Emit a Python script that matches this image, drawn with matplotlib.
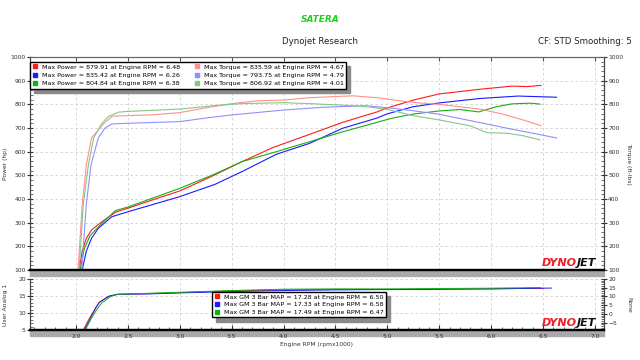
import matplotlib
matplotlib.use('Agg')
import matplotlib.pyplot as plt
from matplotlib.lines import Line2D
from matplotlib.patches import Rectangle
from matplotlib.ticker import MultipleLocator

# --- run data, engine rpm in x1000 ---

# red run
red_pwr_rpm = [2.03, 2.06, 2.10, 2.15, 2.25, 2.38, 2.50, 2.75, 3.00, 3.30, 3.60, 3.90,
               4.25, 4.57, 4.90, 5.00, 5.25, 5.50, 5.90, 6.20, 6.35, 6.48]
red_pwr = [100, 180, 234, 269, 304, 344, 361, 398, 434, 494, 558, 618,
           673, 724, 768, 785, 818, 844, 864, 877, 875, 880]
red_tq_rpm = [2.02, 2.06, 2.10, 2.15, 2.27, 2.35, 2.50, 2.75, 3.00, 3.25, 3.50, 3.75, 4.00,
              4.25, 4.50, 4.67, 4.90, 5.10, 5.30, 5.50, 5.70, 5.90, 6.10, 6.30, 6.48]
red_tq = [100, 375, 545, 658, 720, 750, 752, 756, 765, 785, 803, 815, 818,
          828, 833, 836, 828, 816, 806, 800, 790, 779, 760, 735, 710]

# blue run
blue_pwr_rpm = [2.06, 2.10, 2.15, 2.215, 2.345, 2.50, 3.00, 3.34, 3.61, 3.93, 4.25, 4.57,
                4.90, 5.00, 5.25, 5.50, 5.90, 6.26, 6.63]
blue_pwr = [100, 180, 234, 276, 325, 346, 410, 462, 518, 589, 635, 699,
            742, 760, 790, 806, 825, 835, 830]
blue_tq_rpm = [2.055, 2.10, 2.145, 2.215, 2.28, 2.345, 2.50, 3.00, 3.30, 3.50, 4.00, 4.40,
               4.79, 5.00, 5.25, 5.50, 5.90, 6.20, 6.40, 6.63]
blue_tq = [100, 380, 545, 658, 700, 717, 720, 727, 745, 755, 776, 788,
           794, 786, 773, 758, 722, 695, 678, 658]

# green run
green_pwr_rpm = [2.04, 2.08, 2.135, 2.25, 2.38, 2.50, 3.00, 3.34, 3.60, 3.93, 4.25, 4.57,
                 4.90, 5.05, 5.25, 5.50, 5.70, 5.88, 6.05, 6.20, 6.38, 6.47]
green_pwr = [100, 190, 245, 297, 351, 366, 445, 506, 558, 600, 642, 684,
             724, 742, 759, 772, 778, 768, 790, 802, 805, 801]
green_tq_rpm = [2.03, 2.07, 2.12, 2.17, 2.25, 2.31, 2.41, 2.50, 3.00, 3.34, 3.60, 4.01,
                4.30, 4.60, 4.80, 5.00, 5.25, 5.50, 5.80, 5.96, 6.15, 6.30, 6.47]
green_tq = [100, 375, 545, 658, 720, 748, 767, 770, 780, 795, 803, 807,
            802, 796, 790, 779, 752, 734, 709, 680, 678, 668, 650]

# GM 3 bar MAP (user analog 1)
map_rpm = [2.07, 2.13, 2.18, 2.22, 2.31, 2.40, 2.70, 3.00, 3.50, 4.00, 4.50, 5.00, 5.50, 6.00, 6.50]
red_map = [5, 8.5, 11.0, 13.0, 14.8, 15.5, 15.7, 16.0, 16.5, 16.8, 16.9, 16.9, 17.0, 17.1, 17.28]
blue_map_rpm = [2.08, 2.14, 2.19, 2.23, 2.32, 2.40, 2.70, 3.00, 3.50, 4.00, 4.50, 5.00, 5.50, 6.00, 6.58]
blue_map = [5, 8.5, 11.5, 13.3, 15.0, 15.5, 15.6, 15.9, 16.3, 16.6, 16.8, 16.9, 17.0, 17.1, 17.33]
green_map_rpm = [2.09, 2.15, 2.20, 2.25, 2.33, 2.40, 2.70, 3.00, 3.50, 4.00, 4.50, 5.00, 5.50, 6.00, 6.47]
green_map = [5, 8.5, 11.0, 13.0, 14.8, 15.5, 15.8, 16.1, 16.6, 17.0, 17.1, 17.1, 17.2, 17.3, 17.49]

pwr_labels = ['Max Power = 879.91 at Engine RPM = 6.48',
              'Max Power = 835.42 at Engine RPM = 6.26',
              'Max Power = 804.84 at Engine RPM = 6.38']
tq_labels = ['Max Torque = 835.59 at Engine RPM = 4.67',
             'Max Torque = 793.75 at Engine RPM = 4.79',
             'Max Torque = 806.92 at Engine RPM = 4.01']
map_labels = ['Max GM 3 Bar MAP = 17.28 at Engine RPM = 6.50',
              'Max GM 3 Bar MAP = 17.33 at Engine RPM = 6.58',
              'Max GM 3 Bar MAP = 17.49 at Engine RPM = 6.47']

dark = ['#ff1a1a', '#1a1aff', '#12b012']
light = ['#ff8f8f', '#8f8fff', '#84c884']

plt.rcParams['font.family'] = ['DejaVu Sans']
TS = 4.3  # tick font size
LS = 4.6  # legend font size

W, H = 640.0, 360.0
fig = plt.figure(figsize=(6.4, 3.6), dpi=100)
fig.patch.set_facecolor('white')

L, R = 30, 604
ax = fig.add_axes([L / W, 1 - 270 / H, (R - L) / W, 213 / H])
ax2 = fig.add_axes([L / W, 1 - 330 / H, (R - L) / W, 51 / H])

xlim = (1.557, 7.087)

# --- top plot: power / torque ---
for rpm, y, c in zip([red_pwr_rpm, blue_pwr_rpm, green_pwr_rpm],
                     [red_pwr, blue_pwr, green_pwr], dark):
    ax.plot(rpm, y, color=c, lw=0.8)
axt = ax.twinx()
for rpm, y, c in zip([red_tq_rpm, blue_tq_rpm, green_tq_rpm],
                     [red_tq, blue_tq, green_tq], light):
    axt.plot(rpm, y, color=c, lw=0.8)

for a in (ax, axt):
    a.set_xlim(*xlim)
    a.set_ylim(100, 1000)
    a.yaxis.set_major_locator(MultipleLocator(100))
    a.yaxis.set_minor_locator(MultipleLocator(20))
ax.xaxis.set_major_locator(MultipleLocator(0.5))
ax.grid(True, which='major', ls=(0, (3, 3)), color='#cfcfcf', lw=0.6)
ax.tick_params(axis='x', bottom=False, labelbottom=False, top=True, direction='in',
               length=3, color='#555555')
ax.tick_params(axis='y', which='major', direction='inout', length=4, labelsize=TS,
               colors='#333333', pad=1)
ax.tick_params(axis='y', which='minor', direction='in', length=2.5, color='#555555')
axt.tick_params(axis='y', which='major', direction='inout', length=4, labelsize=TS,
                colors='#333333', pad=1)
axt.tick_params(axis='y', which='minor', direction='in', length=2.5, color='#555555')
ax.set_ylabel('Power (hp)', fontsize=TS, color='#333333')
ax.yaxis.set_label_coords(-22 / (R - L), 0.5)
axt.set_ylabel('Torque (ft-lbs)', fontsize=TS, color='#333333', rotation=270)
axt.yaxis.set_label_coords(1 + 27 / (R - L), 0.5)

for a in (ax, axt):
    a.spines['top'].set_color('#666666')
    a.spines['left'].set_color('#444444')
    a.spines['right'].set_color('#444444')
    a.spines['bottom'].set_color('black')
    a.spines['bottom'].set_linewidth(1.6)

handles = [Line2D([], [], marker='s', ls='none', color=c, markersize=3.2) for c in dark + light]
leg = axt.legend(handles, pwr_labels + tq_labels, ncol=2, loc='upper left',
                 bbox_to_anchor=(0.0, 1 - 5 / 213), borderaxespad=0, fontsize=LS,
                 fancybox=False, edgecolor='black', framealpha=1,
                 shadow={'color': '#8a8a8a', 'alpha': 1, 'ox': 3, 'oy': -3},
                 handlelength=0.8, handletextpad=0.7, columnspacing=2.2,
                 labelspacing=0.45, borderpad=0.35)
leg.get_frame().set_linewidth(1.0)

# --- bottom plot: MAP ---
for rpm, y, c in zip([map_rpm, blue_map_rpm, green_map_rpm],
                     [red_map, blue_map, green_map], dark):
    ax2.plot(rpm, y, color=c, lw=0.7)
ax2t = ax2.twinx()
ax2.set_xlim(*xlim)
ax2t.set_xlim(*xlim)
ax2.set_ylim(5, 20)
ax2t.set_ylim(-9.2, 20)
ax2.xaxis.set_major_locator(MultipleLocator(0.5))
ax2.xaxis.set_minor_locator(MultipleLocator(0.1))
ax2.yaxis.set_major_locator(MultipleLocator(5))
ax2.yaxis.set_minor_locator(MultipleLocator(1))
ax2t.yaxis.set_major_locator(MultipleLocator(5))
ax2t.yaxis.set_minor_locator(MultipleLocator(1))
ax2.grid(True, which='major', ls=(0, (3, 3)), color='#cfcfcf', lw=0.6)
ax2.tick_params(axis='x', which='major', direction='in', length=3.5, labelsize=TS,
                colors='#333333', pad=3)
ax2.tick_params(axis='x', which='minor', direction='in', length=2.2, color='#444444')
for a in (ax2, ax2t):
    a.tick_params(axis='y', which='major', direction='inout', length=4, labelsize=TS,
                  colors='#333333', pad=1)
    a.tick_params(axis='y', which='minor', direction='in', length=2.2, color='#555555')
    a.spines['top'].set_visible(False)
    a.spines['left'].set_color('#444444')
    a.spines['right'].set_color('#444444')
    a.spines['bottom'].set_color('black')
    a.spines['bottom'].set_linewidth(1.6)
ax2.set_xlabel('Engine RPM (rpmx1000)', fontsize=TS, color='#333333', labelpad=2)
ax2.set_ylabel('User Analog 1', fontsize=TS, color='#333333')
ax2.yaxis.set_label_coords(-22 / (R - L), 0.5)
ax2t.set_ylabel('None', fontsize=TS, color='#333333', rotation=270)
ax2t.yaxis.set_label_coords(1 + 27 / (R - L), 0.5)

handles2 = [Line2D([], [], marker='s', ls='none', color=c, markersize=3.2) for c in dark]
leg2 = ax2t.legend(handles2, map_labels, loc='upper left',
                   bbox_to_anchor=((212 - L) / (R - L), (330 - 292) / 51.0), borderaxespad=0,
                   fontsize=LS, fancybox=False, edgecolor='black', framealpha=1,
                   shadow={'color': '#8a8a8a', 'alpha': 1, 'ox': 3, 'oy': -3},
                   handlelength=0.8, handletextpad=0.7, labelspacing=0.35, borderpad=0.35)
leg2.get_frame().set_linewidth(1.0)

# gray shadow bars under each plot
for ybot in (270, 330):
    fig.add_artist(Rectangle((L / W, 1 - (ybot + 6) / H), (R - L) / W, 5 / H,
                             transform=fig.transFigure, color='#a9a9a9', zorder=0))

# DYNOJET marks
for a, h in ((axt, 213.0), (ax2t, 51.0)):
    sx = (577 - L) / (R - L)
    a.text(sx, 1.5 / h, 'DYNO', transform=a.transAxes, ha='right', va='bottom',
           color='#ee1c25', fontsize=8, fontweight='bold', fontstyle='italic', zorder=5)
    a.text(sx, 1.5 / h, 'JET', transform=a.transAxes, ha='left', va='bottom',
           color='#111111', fontsize=8, fontweight='bold', fontstyle='italic', zorder=5)

# header
fig.text(0.5, 1 - 19 / H, 'SATERA', ha='center', va='center', color='#22d022',
         fontsize=6.5, fontweight='bold', fontstyle='italic')
fig.text(0.5, 1 - 41 / H, 'Dynojet Research', ha='center', va='center', fontsize=6.2,
         color='#222222')
fig.text(632 / W, 1 - 41 / H, 'CF: STD Smoothing: 5', ha='right', va='center',
         fontsize=6.2, color='#222222')

fig.savefig('out.png', dpi=100)
